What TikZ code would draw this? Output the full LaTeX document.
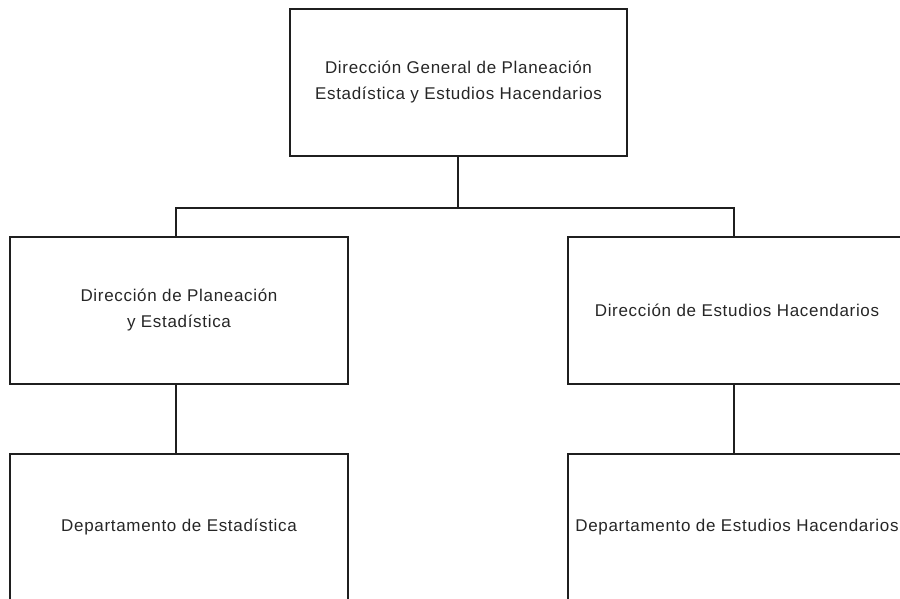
\documentclass[tikz,border=0pt]{standalone}
\usepackage{fontspec}
\newfontfamily\orgfont{Liberation Sans}[LetterSpace=4]
\begin{document}
\begin{tikzpicture}[x=1pt,y=-1pt,
  unit/.style={draw=black!88,line width=1.8pt,minimum width=338pt,minimum height=147pt,
    inner sep=0pt,align=center,font=\orgfont\fontsize{17}{26}\selectfont,text=black!85},
  link/.style={draw=black!88,line width=1.6pt}]
\useasboundingbox (0,0) rectangle (900,599);
\clip (0,0) rectangle (900,599);
\node[unit,minimum width=337pt] (dg) at (458.5,82.5) {Dirección General de Planeación\\Estadística y Estudios Hacendarios};
\node[unit] (dpe) at (179,310.5) {Dirección de Planeación\\y Estadística};
\node[unit] (deh) at (737,310.5) {Dirección de Estudios Hacendarios};
\node[unit] (de) at (179,527.5) {Departamento de Estadística};
\node[unit] (dpeh) at (737,527.5) {Departamento de Estudios Hacendarios};
\coordinate (jm) at (458,208);
\coordinate (jl) at (176,208);
\coordinate (jr) at (734,208);
\draw[link] (dg.south -| jm) -- (jm);
\draw[link] (jl |- dpe.north) -- (jl) -- (jr) -- (jr |- deh.north);
\draw[link] (dpe.south -| jl) -- (de.north -| jl);
\draw[link] (deh.south -| jr) -- (dpeh.north -| jr);
\end{tikzpicture}
\end{document}
